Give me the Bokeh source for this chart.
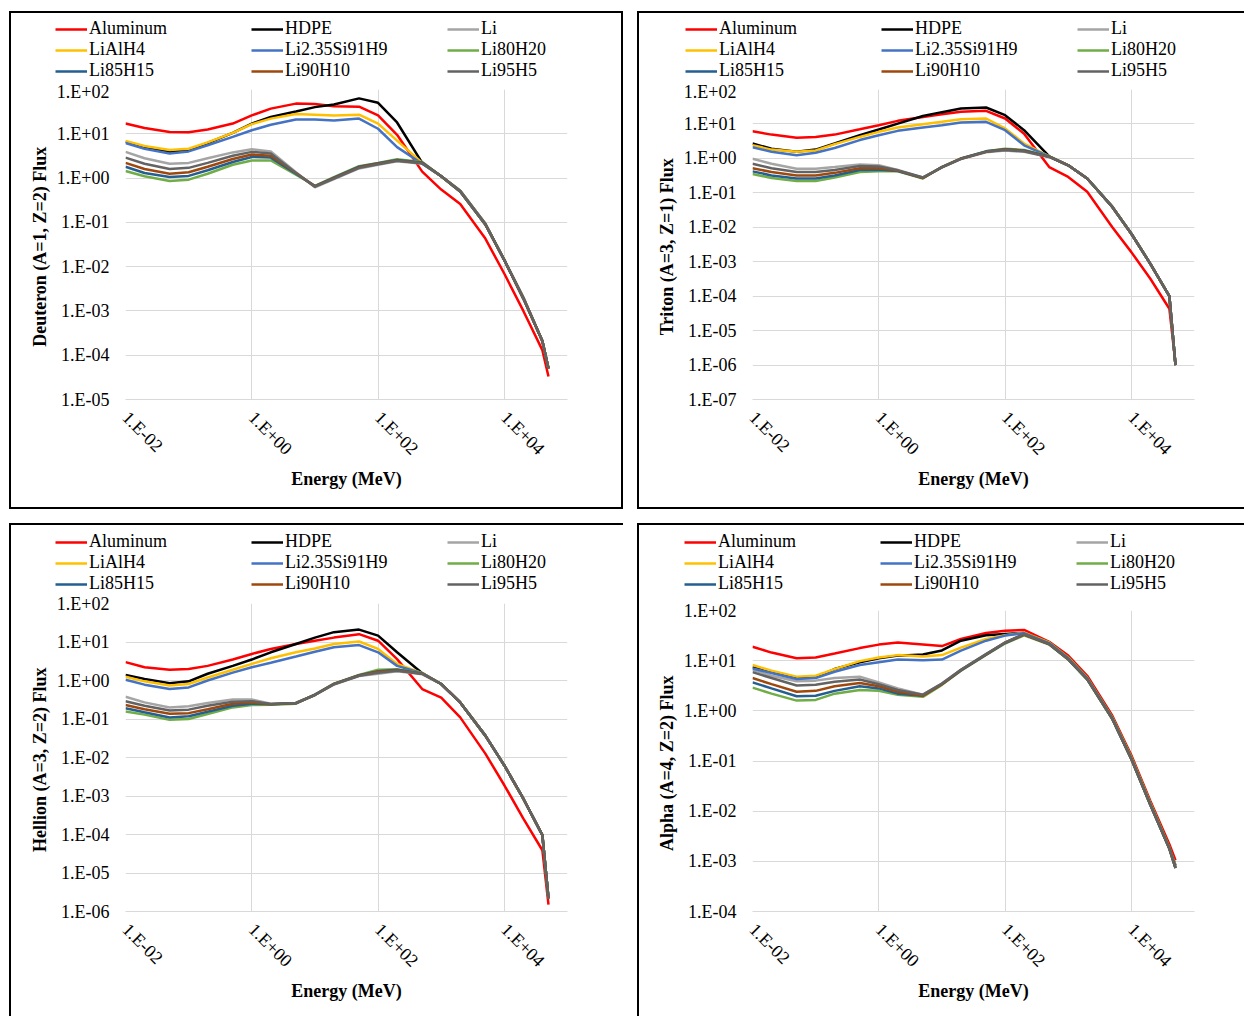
from bokeh.plotting import figure
from bokeh.models import (Range1d, FixedTicker, CustomJSTickFormatter, Legend,
                          LegendItem)
from bokeh.layouts import column, row
from bokeh.embed import file_html
from bokeh.resources import INLINE

# ---------------- data ----------------
ENERGY = [0.01, 0.02, 0.05, 0.1, 0.2, 0.5, 1, 2, 5, 10, 20, 50, 100, 200,
          500, 1000, 2000, 5000, 10000, 20000, 40000, 50000]

SERIES = ["Aluminum", "HDPE", "Li", "LiAlH4", "Li2.35Si91H9",
          "Li80H20", "Li85H15", "Li90H10", "Li95H5"]
COLORS = ["#FF0000", "#000000", "#A5A5A5", "#FFC000", "#4472C4",
          "#70AD47", "#255E91", "#9E480E", "#636363"]

X_TICKS = [1e-2, 1e0, 1e2, 1e4]

# Deuteron (A=1, Z=2)
D_AL = [17, 13.5, 11, 10.8, 12.5, 17, 26, 37, 48, 47, 42, 41, 26, 9.5, 1.4, 0.55, 0.26, 0.043, 0.0069, 1.0e-3, 1.3e-4, 3.3e-5]
D_HDPE = [6.6, 5.0, 3.9, 4.3, 6.2, 10.5, 17, 24, 32, 40, 46, 63, 50, 18, 2.2, 1.1, 0.52, 0.093, 0.014, 2.0e-3, 2.1e-4, 5e-5]
D_LI = [3.9, 2.8, 2.1, 2.2, 2.8, 3.8, 4.5, 4.0, 1.35, 0.62, 0.95, 1.65, 2.0, 2.4, 2.1, 1.1, 0.5, 0.09, 0.014, 1.9e-3, 2.1e-4, 5e-5]
D_LIALH4 = [6.9, 5.3, 4.3, 4.6, 6.4, 10.5, 16.5, 22, 28, 27, 26, 27, 17, 7, 2.2, 1.1, 0.52, 0.093, 0.014, 2.0e-3, 2.1e-4, 5e-5]
D_LISI = [6.2, 4.6, 3.6, 4.0, 5.5, 8.5, 12, 16, 21, 21, 20, 22, 13, 5, 2.1, 1.1, 0.52, 0.093, 0.014, 2.0e-3, 2.1e-4, 5e-5]
D_LI80 = [1.45, 1.1, 0.86, 0.92, 1.25, 2.0, 2.5, 2.5, 1.2, 0.67, 1.05, 1.85, 2.2, 2.65, 2.3, 1.1, 0.5, 0.09, 0.014, 1.9e-3, 2.1e-4, 5e-5]
D_LI85 = [1.8, 1.3, 1.06, 1.12, 1.5, 2.3, 3.0, 2.9, 1.25, 0.66, 1.02, 1.8, 2.15, 2.55, 2.25, 1.1, 0.5, 0.09, 0.014, 1.9e-3, 2.1e-4, 5e-5]
D_LI90 = [2.2, 1.6, 1.25, 1.35, 1.8, 2.7, 3.4, 3.2, 1.3, 0.65, 1.0, 1.75, 2.1, 2.5, 2.2, 1.1, 0.5, 0.09, 0.014, 1.9e-3, 2.1e-4, 5e-5]
D_LI95 = [2.9, 2.1, 1.6, 1.7, 2.2, 3.2, 3.9, 3.6, 1.3, 0.64, 0.97, 1.7, 2.05, 2.45, 2.15, 1.1, 0.5, 0.09, 0.014, 1.9e-3, 2.1e-4, 5e-5]

# Triton (A=3, Z=1)
T_AL = [6.1, 4.9, 4.0, 4.2, 4.9, 7.0, 9.2, 12.3, 16, 19, 22.5, 24, 14.4, 5.2, 0.56, 0.29, 0.107, 0.010, 1.9e-3, 3.2e-4, 4.3e-5, 1.1e-6]
T_HDPE = [2.7, 1.9, 1.55, 1.8, 2.7, 4.7, 6.9, 10.2, 17, 22, 28, 30, 18, 6.6, 1.15, 0.63, 0.26, 0.039, 6.5e-3, 8.7e-4, 1.0e-4, 1.0e-6]
T_LI = [0.98, 0.70, 0.50, 0.50, 0.56, 0.67, 0.63, 0.46, 0.28, 0.55, 0.95, 1.5, 1.7, 1.55, 1.1, 0.63, 0.26, 0.039, 6.5e-3, 8.7e-4, 1.0e-4, 1.0e-6]
T_LIALH4 = [2.4, 1.8, 1.55, 1.7, 2.6, 4.2, 5.9, 7.9, 9.8, 11.5, 13.7, 14.4, 7.4, 2.7, 1.15, 0.63, 0.26, 0.039, 6.5e-3, 8.7e-4, 1.0e-4, 1.0e-6]
T_LISI = [2.1, 1.55, 1.23, 1.45, 2.0, 3.4, 4.7, 6.3, 7.9, 9.2, 11, 11.5, 6.6, 2.4, 1.15, 0.63, 0.26, 0.039, 6.5e-3, 8.7e-4, 1.0e-4, 1.0e-6]
T_LI80 = [0.35, 0.27, 0.22, 0.22, 0.28, 0.40, 0.42, 0.42, 0.26, 0.57, 1.0, 1.6, 1.9, 1.75, 1.15, 0.63, 0.26, 0.039, 6.5e-3, 8.7e-4, 1.0e-4, 1.0e-6]
T_LI85 = [0.42, 0.32, 0.26, 0.26, 0.32, 0.46, 0.47, 0.43, 0.27, 0.56, 0.99, 1.6, 1.85, 1.7, 1.13, 0.63, 0.26, 0.039, 6.5e-3, 8.7e-4, 1.0e-4, 1.0e-6]
T_LI90 = [0.52, 0.40, 0.32, 0.32, 0.38, 0.52, 0.52, 0.44, 0.27, 0.56, 0.98, 1.55, 1.8, 1.65, 1.12, 0.63, 0.26, 0.039, 6.5e-3, 8.7e-4, 1.0e-4, 1.0e-6]
T_LI95 = [0.70, 0.52, 0.40, 0.40, 0.46, 0.60, 0.58, 0.45, 0.28, 0.55, 0.97, 1.55, 1.75, 1.6, 1.1, 0.63, 0.26, 0.039, 6.5e-3, 8.7e-4, 1.0e-4, 1.0e-6]

# Hellion (A=3, Z=2)
H_AL = [3.0, 2.2, 1.9, 2.0, 2.4, 3.5, 4.9, 6.6, 8.9, 10.8, 13, 16, 10.8, 3.6, 0.6, 0.36, 0.11, 0.0126, 1.9e-3, 2.6e-4, 3.9e-5, 1.5e-6]
H_HDPE = [1.4, 1.1, 0.85, 0.95, 1.5, 2.4, 3.5, 5.4, 8.9, 13, 18, 21, 14.6, 5.4, 1.55, 0.81, 0.27, 0.037, 6.2e-3, 8.5e-4, 9.6e-5, 2.2e-6]
H_LI = [0.38, 0.27, 0.20, 0.215, 0.26, 0.32, 0.32, 0.25, 0.26, 0.42, 0.78, 1.3, 1.5, 1.75, 1.45, 0.81, 0.27, 0.037, 6.2e-3, 8.5e-4, 9.6e-5, 2.2e-6]
H_LIALH4 = [1.25, 0.95, 0.74, 0.81, 1.2, 1.9, 2.7, 3.8, 5.4, 6.8, 8.9, 10.3, 6.6, 2.7, 1.55, 0.81, 0.27, 0.037, 6.2e-3, 8.5e-4, 9.6e-5, 2.2e-6]
H_LISI = [1.05, 0.78, 0.60, 0.66, 1.0, 1.6, 2.2, 2.9, 4.2, 5.6, 7.3, 8.3, 5.4, 2.4, 1.55, 0.81, 0.27, 0.037, 6.2e-3, 8.5e-4, 9.6e-5, 2.2e-6]
H_LI80 = [0.156, 0.13, 0.095, 0.10, 0.135, 0.20, 0.23, 0.235, 0.25, 0.43, 0.83, 1.4, 1.9, 1.95, 1.55, 0.81, 0.27, 0.037, 6.2e-3, 8.5e-4, 9.6e-5, 2.2e-6]
H_LI85 = [0.19, 0.15, 0.11, 0.118, 0.155, 0.22, 0.25, 0.24, 0.255, 0.43, 0.82, 1.37, 1.75, 1.9, 1.52, 0.81, 0.27, 0.037, 6.2e-3, 8.5e-4, 9.6e-5, 2.2e-6]
H_LI90 = [0.23, 0.18, 0.137, 0.142, 0.18, 0.25, 0.27, 0.24, 0.26, 0.42, 0.81, 1.35, 1.7, 1.85, 1.5, 0.81, 0.27, 0.037, 6.2e-3, 8.5e-4, 9.6e-5, 2.2e-6]
H_LI95 = [0.29, 0.22, 0.167, 0.175, 0.22, 0.28, 0.29, 0.245, 0.26, 0.42, 0.8, 1.33, 1.6, 1.8, 1.5, 0.81, 0.27, 0.037, 6.2e-3, 8.5e-4, 9.6e-5, 2.2e-6]

# Alpha (A=4, Z=2)
A_AL = [19, 14.5, 11.2, 11.6, 13.9, 17.8, 20.9, 23, 21, 19.5, 27, 35.5, 39.5, 41, 23.8, 12.6, 5.0, 0.8, 0.13, 0.016, 2.2e-3, 1.05e-3]
A_HDPE = [7.4, 5.9, 4.5, 4.7, 6.8, 9.3, 11.2, 12.6, 13.3, 16, 25, 32, 34, 35.5, 23, 11.6, 4.6, 0.74, 0.12, 0.0147, 1.9e-3, 8.3e-4]
A_LI = [6.6, 5.0, 3.9, 4.0, 4.5, 4.8, 3.7, 2.8, 2.1, 3.5, 6.6, 13.5, 23, 34, 21.5, 10.7, 4.3, 0.69, 0.11, 0.0134, 1.8e-3, 7.4e-4]
A_LIALH4 = [8.2, 6.3, 4.8, 5.0, 6.8, 9.8, 11.6, 12.9, 12.1, 12.9, 18.2, 27, 32, 36, 23, 11.6, 4.6, 0.74, 0.12, 0.0147, 1.9e-3, 8.3e-4]
A_LISI = [7.0, 5.7, 4.3, 4.5, 6.0, 8.2, 9.3, 10.5, 10.2, 10.5, 15.8, 25, 31.6, 35.5, 22.4, 11.3, 4.5, 0.72, 0.115, 0.014, 1.85e-3, 8e-4]
A_LI80 = [2.9, 2.2, 1.6, 1.65, 2.2, 2.6, 2.5, 2.1, 1.9, 3.3, 6.3, 13, 22, 32, 21, 10.5, 4.2, 0.68, 0.108, 0.0132, 1.78e-3, 7.3e-4]
A_LI85 = [3.7, 2.8, 1.95, 2.0, 2.5, 3.1, 2.8, 2.2, 2.0, 3.4, 6.4, 13.2, 22.5, 33, 21.3, 10.6, 4.25, 0.69, 0.109, 0.0133, 1.79e-3, 7.35e-4]
A_LI90 = [4.5, 3.4, 2.4, 2.5, 3.1, 3.6, 3.1, 2.4, 2.0, 3.4, 6.5, 13.3, 23, 33, 21.4, 10.7, 4.3, 0.69, 0.11, 0.0134, 1.8e-3, 7.4e-4]
A_LI95 = [5.9, 4.5, 3.2, 3.3, 3.8, 4.2, 3.4, 2.6, 2.1, 3.5, 6.6, 13.5, 23, 34, 21.5, 10.7, 4.3, 0.69, 0.11, 0.0134, 1.8e-3, 7.4e-4]

PANELS = [
    dict(title="Deuteron (A=1, Z=2)  Flux", ymin=1e-5,
         data=[D_AL, D_HDPE, D_LI, D_LIALH4, D_LISI, D_LI80, D_LI85, D_LI90, D_LI95],
         w=614, h=428, l=116, r=56, t=8, b=110, margin=(11, 0, 0, 9), leg=(46, 0),
         b_leg="inset 2px 2px 0 0 #000, inset -2px 0 0 0 #000",
         b_main="inset 2px 0 0 0 #000, inset -2px -2px 0 0 #000"),
    dict(title="Triton (A=3, Z=1)  Flux", ymin=1e-7,
         data=[T_AL, T_HDPE, T_LI, T_LIALH4, T_LISI, T_LI80, T_LI85, T_LI90, T_LI95],
         w=607, h=428, l=115, r=50, t=8, b=110, margin=(11, 0, 0, 14), leg=(48, 0),
         b_leg="inset 2px 2px 0 0 #000",
         b_main="inset 2px -2px 0 0 #000"),
    dict(title="Hellion (A=3, Z=2)  Flux", ymin=1e-6,
         data=[H_AL, H_HDPE, H_LI, H_LIALH4, H_LISI, H_LI80, H_LI85, H_LI90, H_LI95],
         w=614, h=423, l=116, r=56, t=10, b=105, margin=(14, 0, 0, 9), leg=(46, -1),
         b_leg="inset 2px 2px 0 0 #000",
         b_main="inset 2px 0 0 0 #000"),
    dict(title="Alpha (A=4, Z=2)  Flux", ymin=1e-4,
         data=[A_AL, A_HDPE, A_LI, A_LIALH4, A_LISI, A_LI80, A_LI85, A_LI90, A_LI95],
         w=607, h=423, l=115, r=50, t=17, b=105, margin=(14, 0, 0, 14), leg=(47, -1),
         b_leg="inset 2px 2px 0 0 #000",
         b_main="inset 2px 0 0 0 #000"),
]
LEG_H = 70

FMT = """
const e = Math.round(Math.log10(tick));
const s = e < 0 ? '-' : '+';
const a = Math.abs(e);
return '1.E' + s + (a < 10 ? '0' : '') + a;
"""

SERIF = "Liberation Serif"


def make_legend_fig(cfg):
    # legend strip above the plot; its lines lie outside the (empty) view range
    lf = figure(width=cfg["w"], height=LEG_H, output_backend="svg", toolbar_location=None,
                x_axis_type="log", y_axis_type="log",
                x_axis_location=None, y_axis_location=None,
                x_range=Range1d(1e-2, 1e5), y_range=Range1d(1e6, 1e7),
                min_border=0, styles={"box-shadow": cfg["b_leg"]})
    lf.outline_line_color = None
    lf.background_fill_color = None
    lf.border_fill_color = None
    lf.grid.visible = False
    items = []
    for name, col, ys in zip(SERIES, COLORS, cfg["data"]):
        rr = lf.line(ENERGY, ys, line_color=col, line_width=2.5)
        items.append(LegendItem(label=name, renderers=[rr]))
    leg = Legend(items=items, location=cfg["leg"], orientation="horizontal", ncols=3,
                 label_text_font=SERIF, label_text_font_size="18px",
                 label_text_color="black", glyph_width=32, glyph_height=20,
                 label_height=20, label_width=162, label_standoff=2,
                 spacing=0, padding=0, margin=0,
                 border_line_color=None, background_fill_alpha=0)
    lf.add_layout(leg, "center")
    return lf


def make_panel(cfg):
    p = figure(width=cfg["w"], height=cfg["h"], x_axis_type="log", y_axis_type="log",
               x_range=Range1d(1e-2, 1e5), y_range=Range1d(cfg["ymin"], 1e2),
               output_backend="svg", toolbar_location=None,
               min_border_left=cfg["l"], min_border_right=cfg["r"],
               min_border_top=cfg["t"], min_border_bottom=cfg["b"],
               styles={"box-shadow": cfg["b_main"]})
    p.outline_line_color = None
    p.background_fill_color = None
    p.border_fill_color = None

    yt = []
    v = cfg["ymin"]
    while v < 1.5e2:
        yt.append(v)
        v *= 10
    p.xaxis.ticker = FixedTicker(ticks=X_TICKS, minor_ticks=[])
    p.yaxis.ticker = FixedTicker(ticks=yt, minor_ticks=[])
    for ax in (p.xaxis[0], p.yaxis[0]):
        ax.formatter = CustomJSTickFormatter(code=FMT)
        ax.major_tick_line_color = None
        ax.minor_tick_line_color = None
        ax.major_tick_out = 0
        ax.major_tick_in = 0
        ax.minor_tick_out = 0
        ax.minor_tick_in = 0
        ax.major_label_text_font = SERIF
        ax.major_label_text_font_size = "18px"
        ax.major_label_text_color = "black"
        ax.axis_label_text_font = SERIF
        ax.axis_label_text_font_size = "18px"
        ax.axis_label_text_font_style = "bold"
        ax.axis_label_text_color = "black"
    p.xaxis.axis_line_color = "#D9D9D9"
    p.yaxis.axis_line_color = None
    p.xaxis.major_label_orientation = -0.785398
    p.xaxis.major_label_standoff = 15
    p.xaxis.axis_label = "Energy (MeV)"
    p.xaxis.axis_label_standoff = 0
    p.yaxis.axis_label = cfg["title"]
    p.yaxis.major_label_standoff = 16
    p.yaxis.axis_label_standoff = 4
    p.xgrid.grid_line_color = "#D9D9D9"
    p.ygrid.grid_line_color = "#D9D9D9"

    for name, col, ys in zip(SERIES, COLORS, cfg["data"]):
        p.line(ENERGY, ys, line_color=col, line_width=2.5)
    return p


cells = []
for c in PANELS:
    cells.append(column(row(make_legend_fig(c)), make_panel(c), margin=c["margin"], spacing=0))

layout = column(row(cells[0], cells[1], spacing=0), row(cells[2], cells[3], spacing=0), spacing=0)

open("out.html", "w").write(file_html(layout, INLINE))
